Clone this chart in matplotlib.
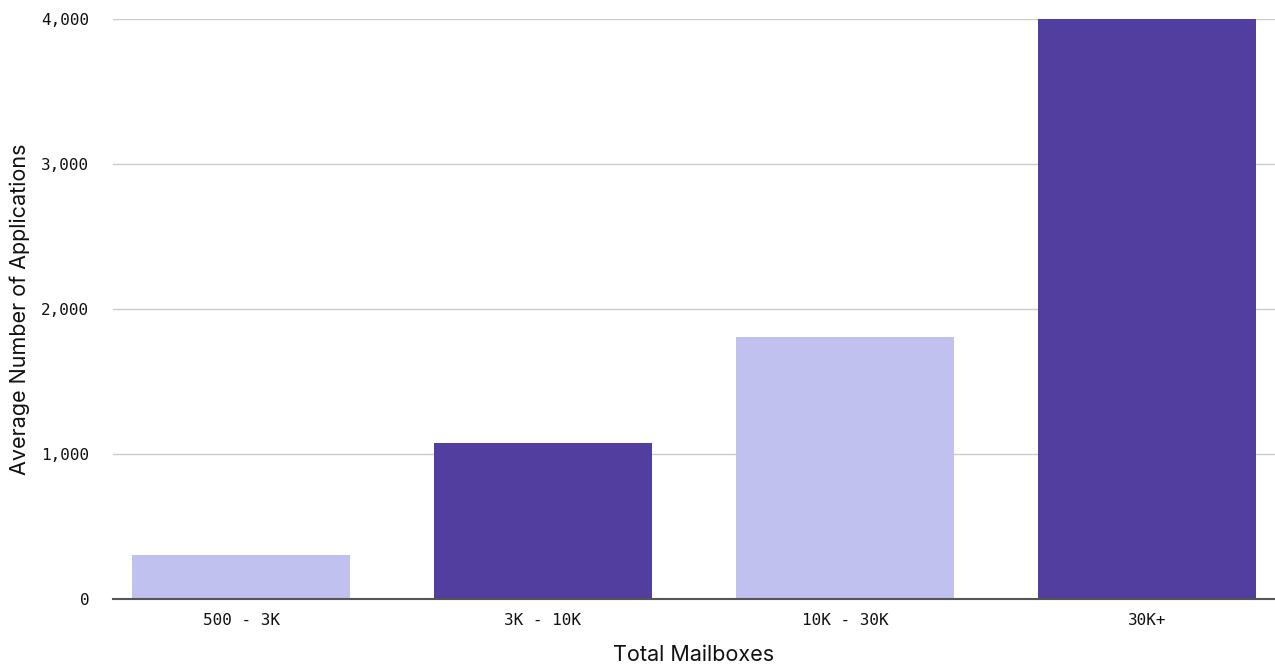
import matplotlib.pyplot as plt
from matplotlib.ticker import FuncFormatter

# average number of applications by mailbox count bucket
categories = ["500 - 3K", "3K - 10K", "10K - 30K", "30K+"]
avg_apps = [303, 1076, 1807, 4000]
bar_colors = ["#c0c1ee", "#513e9e", "#c0c1ee", "#513e9e"]
y_ticks = [0, 1000, 2000, 3000, 4000]

fig = plt.figure(figsize=(12.75, 6.64), dpi=100)
ax = fig.add_axes([0.0886, 0.0979, 0.9114, 0.8735])

x = range(len(categories))
ax.bar(x, avg_apps, width=0.72, color=bar_colors, zorder=2)

ax.set_xlim(-0.424, len(categories) - 1 + 0.424)
ax.set_ylim(0, 4000)
ax.set_yticks(y_ticks)
ax.yaxis.set_major_formatter(FuncFormatter(lambda v, p: f"{int(v):,}"))
ax.set_xticks(list(x))
ax.set_xticklabels(categories)

mono = "DejaVu Sans Mono"
for lbl in ax.get_xticklabels() + ax.get_yticklabels():
    lbl.set_fontfamily(mono)
    lbl.set_fontsize(11.5)
    lbl.set_color("#111111")

ax.tick_params(axis="both", length=0)
ax.tick_params(axis="y", pad=17)
ax.tick_params(axis="x", pad=10)

ax.grid(axis="y", color="#cccccc", linewidth=1, zorder=0)
for side in ["top", "right", "left"]:
    ax.spines[side].set_visible(False)
ax.spines["bottom"].set_color("#555555")
ax.spines["bottom"].set_linewidth(1.5)
ax.spines["bottom"].set_zorder(3)

ax.set_xlabel("Total Mailboxes", fontfamily="Inter", fontsize=15.5, color="#111111", labelpad=12)
ax.set_ylabel("Average Number of Applications", fontfamily="Inter", fontsize=15.5, color="#111111")
ax.yaxis.set_label_coords(-0.0714, 0.5)

fig.savefig("out.png", dpi=100)
